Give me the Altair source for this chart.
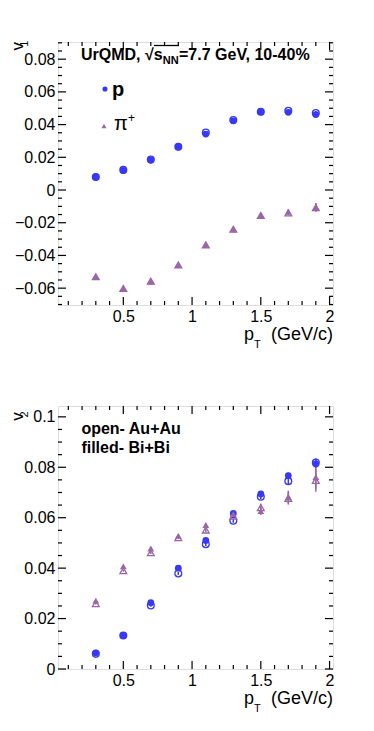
import altair as alt
import pandas as pd

FONT = "Liberation Sans"
BLUE = "#3838f5"
PURPLE = "#9a66a4"

pt = [0.3, 0.5, 0.7, 0.9, 1.1, 1.3, 1.5, 1.7, 1.9]

# v1 (top panel)
v1_p_auau = [0.0080, 0.0123, 0.0186, 0.0265, 0.0352, 0.0428, 0.0479, 0.0484, 0.0471]
v1_p_bibi = [0.0080, 0.0120, 0.0183, 0.0263, 0.0342, 0.0423, 0.0477, 0.0475, 0.0461]
v1_pi_auau = [-0.0530, -0.0602, -0.0557, -0.0458, -0.0335, -0.0240, -0.0156, -0.0140, -0.0108]
v1_pi_bibi = [-0.0532, -0.0604, -0.0559, -0.0459, -0.0337, -0.0241, -0.0154, -0.0133, -0.0105]
v1_p_err = [0.0003, 0.0003, 0.0004, 0.0005, 0.0006, 0.0007, 0.0008, 0.0010, 0.0012]
v1_pi_err = [0.0002, 0.0002, 0.0003, 0.0004, 0.0005, 0.0007, 0.0010, 0.0015, 0.0025]

# v2 (bottom panel)
v2_p_auau = [0.0060, 0.0133, 0.0252, 0.0379, 0.0495, 0.0588, 0.0683, 0.0745, 0.0819]
v2_p_bibi = [0.0064, 0.0133, 0.0263, 0.0400, 0.0510, 0.0617, 0.0694, 0.0767, 0.0813]
v2_pi_auau = [0.0259, 0.0390, 0.0461, 0.0521, 0.0551, 0.0606, 0.0640, 0.0677, 0.0748]
v2_pi_bibi = [0.0271, 0.0407, 0.0478, 0.0528, 0.0571, 0.0614, 0.0626, 0.0682, 0.0761]
v2_p_err = [0.0003, 0.0004, 0.0005, 0.0006, 0.0007, 0.0008, 0.0010, 0.0012, 0.0016]
v2_pi_err = [0.0003, 0.0004, 0.0005, 0.0006, 0.0008, 0.0010, 0.0015, 0.0025, 0.0045]

x_major = [0.5, 1.0, 1.5, 2.0]
x_minor = [0.1, 0.2, 0.3, 0.4, 0.6, 0.7, 0.8, 0.9, 1.1, 1.2, 1.3, 1.4, 1.6, 1.7, 1.8, 1.9]
v1_major = [-0.06, -0.04, -0.02, 0.0, 0.02, 0.04, 0.06, 0.08]
v2_major = [0.0, 0.02, 0.04, 0.06, 0.08, 0.1]
minor_step = 0.005

W = 275
H1 = 263
H2 = 263


def build(p_open, p_fill, pi_open, pi_fill, p_err, pi_err):
    rows = []
    for sysname, pv, piv in (("open", p_open, pi_open), ("filled", p_fill, pi_fill)):
        for i, x in enumerate(pt):
            rows.append(dict(pt=x, v=pv[i], lo=pv[i] - p_err[i], hi=pv[i] + p_err[i],
                             particle="p", system=sysname))
            rows.append(dict(pt=x, v=piv[i], lo=piv[i] - pi_err[i], hi=piv[i] + pi_err[i],
                             particle="pi", system=sysname))
    return pd.DataFrame(rows)


one = pd.DataFrame({"k": [0]})


def txt(s, x, y, size, weight="normal", align="left", angle=0, color="black"):
    kw = dict(text=s, fontSize=size, fontWeight=weight, align=align,
              baseline="alphabetic", font=FONT, color=color)
    if angle:
        kw["angle"] = angle
    return alt.Chart(one).mark_text(**kw).encode(x=alt.value(x), y=alt.value(y))


color_scale = alt.Scale(domain=["p", "pi"], range=[BLUE, PURPLE])
shape_scale = alt.Scale(domain=["p", "pi"], range=["circle", "triangle-up"])


def panel(df, ydomain, ymajor, H, extra):
    xs = alt.Scale(domain=[0.025, 2.025], nice=False, zero=False)
    ys = alt.Scale(domain=ydomain, nice=False, zero=False)
    common = dict(title=None, labelFlush=False, labelPadding=3, domain=False, ticks=False,
                  grid=False, labelFont=FONT, labelFontSize=16, labelColor="black")
    xaxis = alt.Axis(values=x_major, format=".1~f", **common)
    yaxis = alt.Axis(values=ymajor, format=".2~f", **common)
    X = alt.X("pt:Q", scale=xs, axis=xaxis)
    Y = alt.Y("v:Q", scale=ys, axis=yaxis)

    base = alt.Chart(df)
    err = base.mark_rule(strokeWidth=1.5).encode(
        x=X, y=alt.Y("lo:Q", scale=ys, axis=yaxis), y2="hi:Q",
        color=alt.Color("particle:N", scale=color_scale, legend=None))
    opn = base.transform_filter(alt.datum.system == "open").mark_point(
        filled=False, strokeWidth=1.3, size=46, opacity=1).encode(
        x=X, y=Y,
        color=alt.Color("particle:N", scale=color_scale, legend=None),
        shape=alt.Shape("particle:N", scale=shape_scale, legend=None))
    fil = base.transform_filter(alt.datum.system == "filled").mark_point(
        filled=True, size=46, opacity=1).encode(
        x=X, y=Y,
        color=alt.Color("particle:N", scale=color_scale, legend=None),
        shape=alt.Shape("particle:N", scale=shape_scale, legend=None))

    # inward ROOT-style ticks on all four sides
    ymin, ymax = ydomain
    k0 = int(ymin / minor_step) - 1
    k1 = int(ymax / minor_step) + 1
    yall = [round(k * minor_step, 4) for k in range(k0, k1 + 1)]
    yall = [v for v in yall if ymin <= v <= ymax]
    y_minor = [v for v in yall if all(abs(v - m) > 1e-6 for m in ymajor)]

    tick_layers = []
    for vals, ln in ((x_major, 8), (x_minor, 4)):
        d = alt.Chart(pd.DataFrame({"pt": vals})).mark_rule(color="black", strokeWidth=1.2)
        tick_layers.append(d.encode(x=X, y=alt.value(H), y2=alt.value(H - ln)))
        tick_layers.append(d.encode(x=X, y=alt.value(0), y2=alt.value(ln)))
    for vals, ln in ((ymajor, 8), (y_minor, 4)):
        d = alt.Chart(pd.DataFrame({"v": vals})).mark_rule(color="black", strokeWidth=1.2)
        tick_layers.append(d.encode(y=Y, x=alt.value(0), x2=alt.value(ln)))
        tick_layers.append(d.encode(y=Y, x=alt.value(W), x2=alt.value(W - ln)))

    xt = [
        txt("p", 186, H + 35, 18),
        txt("T", 196, H + 43, 11),
        txt("(GeV/c)", W, H + 35, 18, align="right"),
    ]
    return alt.layer(err, opn, fil, *xt, *extra, *tick_layers).properties(width=W, height=H)


df1 = build(v1_p_auau, v1_p_bibi, v1_pi_auau, v1_pi_bibi, v1_p_err, v1_pi_err)
df2 = build(v2_p_auau, v2_p_bibi, v2_pi_auau, v2_pi_bibi, v2_p_err, v2_pi_err)

legend_sym = [
    alt.Chart(one).mark_point(filled=True, size=26, color=BLUE, shape="circle", opacity=1)
    .encode(x=alt.value(47), y=alt.value(47)),
    alt.Chart(one).mark_point(filled=True, size=26, color=PURPLE, shape="triangle-up", opacity=1)
    .encode(x=alt.value(46), y=alt.value(84)),
]

extra1 = [
    txt("UrQMD, \u221As", 23, 18, 16, weight="bold"),
    txt("NN", 104.7, 22, 11, weight="bold"),
    txt("=7.7 GeV, 10-40%", 121, 18, 16, weight="bold"),
    alt.Chart(one).mark_rule(color="black", strokeWidth=1.3).encode(
        x=alt.value(96), x2=alt.value(121), y=alt.value(3.5), y2=alt.value(3.5)),
    txt("p", 54, 54, 20, weight="bold"),
    txt("\u03c0", 56, 88, 20),
    txt("+", 70, 80, 12),
    txt("v", -34.7, 0, 17, align="right", angle=270),
    txt("1", -30.5, -1.5, 11, align="right", angle=270),
    *legend_sym,
]

extra2 = [
    txt("open- Au+Au", 23.4, 28, 16, weight="bold"),
    txt("filled- Bi+Bi", 23.4, 46.6, 16, weight="bold"),
    txt("v", -34.7, 6.3, 17, align="right", angle=270),
    txt("2", -30.5, 5.3, 11, align="right", angle=270),
]

top = panel(df1, [-0.0703, 0.0905], v1_major, H1, extra1)
bottom = panel(df2, [0.0, 0.1043], v2_major, H2, extra2)

chart = alt.vconcat(top, bottom, spacing=53).properties(
    padding={"left": 0, "top": 32, "right": 0, "bottom": 0}
).configure_view(stroke="black", strokeWidth=1.5).configure(background="white")

chart.save("out.html", embed_options={"renderer": "svg", "actions": False})
